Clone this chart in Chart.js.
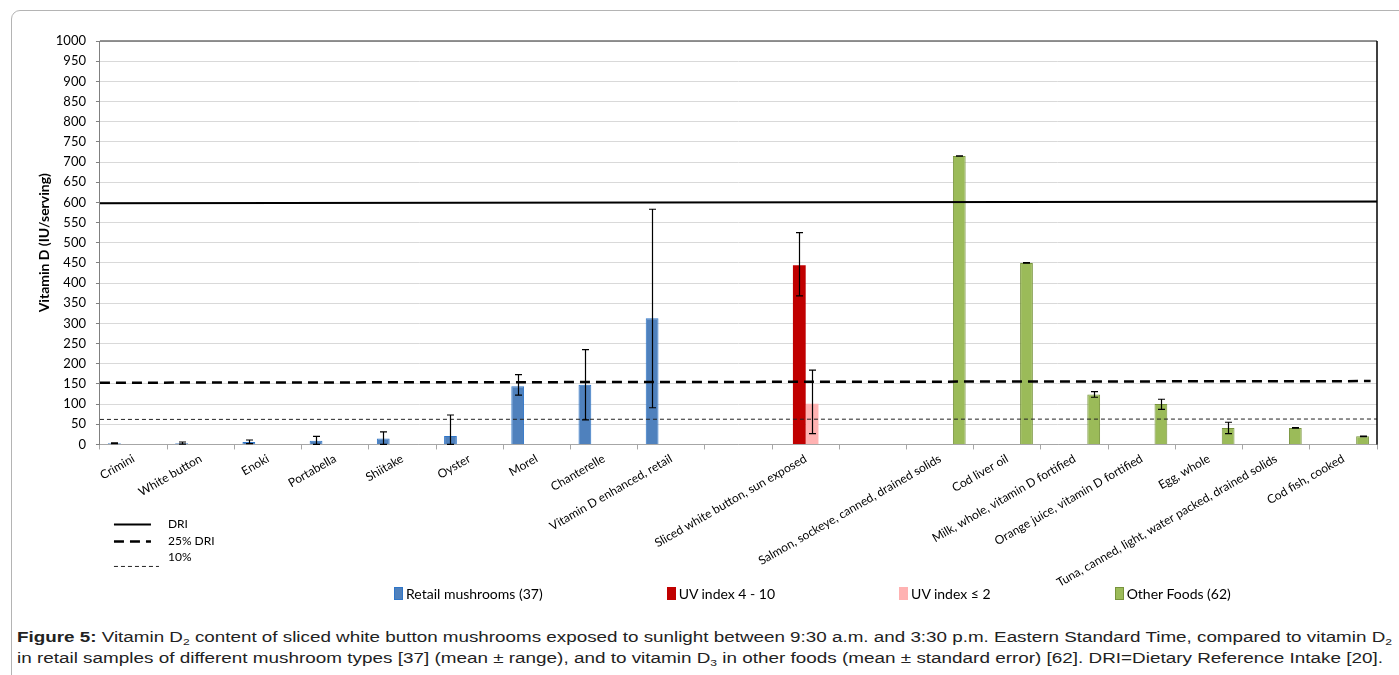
<!DOCTYPE html>
<html>
<head>
<meta charset="utf-8">
<script src="https://cdn.jsdelivr.net/npm/chart.js@4.4.1/dist/chart.umd.min.js"></script>
<style>
    html, body { margin: 0; padding: 0; background: #fff; }
    body { width: 1399px; height: 675px; overflow: hidden; position: relative; font-family: Lato, sans-serif; }
    .frame { position: absolute; left: 11px; top: 10px; width: 1460px; height: 720px; border: 1px solid #b4b4b4; border-radius: 9px; }
    .chartBox { position: absolute; left: 12px; top: 11px; width: 1387px; height: 585px; }
    .seriesLegend { position: absolute; left: 394px; top: 585px; display: flex; gap: 124px; font: 14px Lato, sans-serif; color: #000; }
    .seriesLegend .item { display: flex; align-items: center; white-space: nowrap; }
    .seriesLegend .key { width: 7px; height: 11px; margin-right: 3px; border: 1px solid; }
    .caption { position: absolute; left: 17px; top: 627px; font: 14px "Liberation Sans", Arial, sans-serif; line-height: 21px; color: #222; }
    .caption div { width: max-content; white-space: nowrap; transform-origin: 0 0; }
    .caption sub { font-size: 9px; vertical-align: -3px; line-height: 0; }
</style>
</head>
<body>
<div class="frame"></div>
<div class="chartBox"><canvas id="vitaminChart"></canvas></div>
<div class="seriesLegend" id="seriesLegend"></div>
<div class="caption">
    <div><b>Figure 5:</b> Vitamin D<sub>2</sub> content of sliced white button mushrooms exposed to sunlight between 9:30 a.m. and 3:30 p.m. Eastern Standard Time, compared to vitamin D<sub>2</sub></div>
    <div>in retail samples of different mushroom types [37] (mean ± range), and to vitamin D<sub>3</sub> in other foods (mean ± standard error) [62]. DRI=Dietary Reference Intake [20].</div>
</div>
<script>
// categories (two blank slots separate the groups)
const categories = ['Crimini', 'White button', 'Enoki', 'Portabella', 'Shiitake', 'Oyster', 'Morel', 'Chanterelle',
    'Vitamin D enhanced, retail', '', 'Sliced white button, sun exposed', '', 'Salmon, sockeye, canned, drained solids',
    'Cod liver oil', 'Milk, whole, vitamin D fortified', 'Orange juice, vitamin D fortified', 'Egg, whole',
    'Tuna, canned, light, water packed, drained solids', 'Cod fish, cooked'];

const seriesNames = ['Retail mushrooms (37)', 'UV index 4 - 10', 'UV index ≤ 2', 'Other Foods (62)'];

// mean values (IU/serving)
const retailValues = [3, 3, 6, 9, 15, 21, 144, 148, 313, null, null, null, null, null, null, null, null, null, null];
const uvHighValues = [null, null, null, null, null, null, null, null, null, null, 444, null, null, null, null, null, null, null, null];
const uvLowValues = [null, null, null, null, null, null, null, null, null, null, 101, null, null, null, null, null, null, null, null];
const otherValues = [null, null, null, null, null, null, null, null, null, null, null, null, 715, 450, 124, 100, 41, 41, 20];

// error bar ends (range for mushrooms, SE for other foods)
const retailLow = [2, 1, 2, 0, 0, 0, 122, 61, 91, null, null, null, null, null, null, null, null, null, null];
const retailHigh = [4, 6, 11, 20, 31, 73, 173, 235, 583, null, null, null, null, null, null, null, null, null, null];
const uvHighLow = [null, null, null, null, null, null, null, null, null, null, 368, null, null, null, null, null, null, null, null];
const uvHighHigh = [null, null, null, null, null, null, null, null, null, null, 525, null, null, null, null, null, null, null, null];
const uvLowLow = [null, null, null, null, null, null, null, null, null, null, 27, null, null, null, null, null, null, null, null];
const uvLowHigh = [null, null, null, null, null, null, null, null, null, null, 184, null, null, null, null, null, null, null, null];
const otherLow = [null, null, null, null, null, null, null, null, null, null, null, null, 714.5, 449.5, 117, 87, 27, 40.5, 19.5];
const otherHigh = [null, null, null, null, null, null, null, null, null, null, null, null, 715.5, 450.5, 131, 112, 55, 41.5, 20.5];

// reference lines: DRI, 25% DRI, 10% (value at left and right edge of the plot)
const refNames = ['DRI', '25% DRI', '10%'];
const refStart = [598, 153, 62];
const refEnd = [602, 157, 63];
const refEndX = [1, 0.995, 1];

const yTicks = [0, 1000, 50];

const refStyles = [
    { color: '#000', width: 2, dash: [] },
    { color: '#000', width: 2.5, dash: [10, 6] },
    { color: '#222', width: 1, dash: [4, 3] }
];

const barStyle = (label, data, low, high, fill, border) => ({
    label: label,
    data: data,
    errLow: low,
    errHigh: high,
    backgroundColor: fill,
    borderColor: border || fill,
    borderWidth: border ? 1 : 0,
    categoryPercentage: 0.76,
    barPercentage: 1.0
});

const datasets = [
    barStyle(seriesNames[0], retailValues, retailLow, retailHigh, '#4f81bd', '#2e75c8'),
    barStyle(seriesNames[1], uvHighValues, uvHighLow, uvHighHigh, '#c00000', null),
    barStyle(seriesNames[2], uvLowValues, uvLowLow, uvLowHigh, '#ffb2b2', null),
    barStyle(seriesNames[3], otherValues, otherLow, otherHigh, '#9bbb59', '#77933c')
];

// reference lines drawn across the plot from the y scale
const refLines = {
    id: 'refLines',
    afterDatasetsDraw(chart) {
        const { ctx, chartArea: a, scales: { y } } = chart;
        ctx.save();
        ctx.beginPath();
        ctx.rect(a.left, a.top, a.width, a.height);
        ctx.clip();
        refNames.forEach((name, i) => {
            ctx.strokeStyle = refStyles[i].color;
            ctx.lineWidth = refStyles[i].width;
            ctx.setLineDash(refStyles[i].dash);
            ctx.beginPath();
            ctx.moveTo(a.left, y.getPixelForValue(refStart[i]));
            ctx.lineTo(a.left + a.width * refEndX[i], y.getPixelForValue(refEnd[i]));
            ctx.stroke();
        });
        ctx.restore();
    }
};

// error bars drawn from the y scale
const errorBars = {
    id: 'errorBars',
    afterDatasetsDraw(chart) {
        const { ctx, scales: { y } } = chart;
        ctx.save();
        ctx.strokeStyle = '#000';
        ctx.lineWidth = 1.2;
        chart.data.datasets.forEach((ds, i) => {
            const meta = chart.getDatasetMeta(i);
            meta.data.forEach((bar, j) => {
                if (ds.data[j] == null) return;
                const x = Math.round(bar.x) + 0.5;
                const top = y.getPixelForValue(ds.errHigh[j]);
                const bottom = y.getPixelForValue(ds.errLow[j]);
                ctx.beginPath();
                ctx.moveTo(x, top);
                ctx.lineTo(x, bottom);
                ctx.moveTo(x - 3.5, top);
                ctx.lineTo(x + 3.5, top);
                ctx.moveTo(x - 3.5, bottom);
                ctx.lineTo(x + 3.5, bottom);
                ctx.stroke();
            });
        });
        ctx.restore();
    }
};

// top and right edges of the plot area
const plotFrame = {
    id: 'plotFrame',
    afterDraw(chart) {
        const { ctx, chartArea: a } = chart;
        ctx.save();
        ctx.lineWidth = 1.5;
        ctx.strokeStyle = '#6f6f6f';
        ctx.beginPath();
        ctx.moveTo(a.left, a.top);
        ctx.lineTo(a.right, a.top);
        ctx.stroke();
        ctx.strokeStyle = '#000';
        ctx.beginPath();
        ctx.moveTo(a.right, a.top);
        ctx.lineTo(a.right, a.bottom);
        ctx.stroke();
        ctx.restore();
    }
};

// small key for the reference lines, bottom left
const lineLegend = {
    id: 'lineLegend',
    afterDraw(chart) {
        const { ctx, chartArea: a } = chart;
        const rows = [
            { lineY: 80, textY: 80, len: 37 },
            { lineY: 97, textY: 97, len: 37 },
            { lineY: 122, textY: 113, len: 45 }
        ];
        ctx.save();
        ctx.font = '12px Lato, sans-serif';
        ctx.fillStyle = '#000';
        ctx.textBaseline = 'middle';
        refNames.forEach((name, i) => {
            ctx.strokeStyle = refStyles[i].color;
            ctx.lineWidth = refStyles[i].width;
            ctx.setLineDash(refStyles[i].dash);
            ctx.beginPath();
            ctx.moveTo(a.left + 14, a.bottom + rows[i].lineY);
            ctx.lineTo(a.left + 14 + rows[i].len, a.bottom + rows[i].lineY);
            ctx.stroke();
            ctx.fillText(name, a.left + 68, a.bottom + rows[i].textY);
        });
        ctx.restore();
    }
};

const ctx = document.getElementById('vitaminChart').getContext('2d');
const vitaminChart = new Chart(ctx, {
    type: 'bar',
    data: { labels: categories, datasets: datasets },
    options: {
        responsive: true,
        maintainAspectRatio: false,
        animation: false,
        layout: { padding: { left: 12, right: 22, top: 30, bottom: 4 } },
        plugins: {
            legend: { display: false },
            tooltip: { enabled: false }
        },
        scales: {
            x: {
                grid: { drawOnChartArea: false, tickLength: 5, tickColor: '#a6a6a6' },
                border: { color: '#a6a6a6' },
                ticks: {
                    autoSkip: false,
                    minRotation: 30,
                    maxRotation: 30,
                    padding: 2,
                    color: '#000',
                    font: { family: 'Lato', size: 12 }
                }
            },
            y: {
                min: yTicks[0],
                max: yTicks[1],
                ticks: {
                    stepSize: yTicks[2],
                    padding: 10,
                    color: '#000',
                    font: { family: 'Lato', size: 13 },
                    callback: (value) => String(value)
                },
                grid: { color: '#d9d9d9', tickColor: '#808080', tickLength: 4 },
                border: { color: '#808080' },
                title: {
                    display: true,
                    text: 'Vitamin D (IU/serving)',
                    color: '#000',
                    font: { family: 'Lato', size: 14, weight: 'bold' },
                    padding: { top: 12, bottom: -7 }
                }
            }
        }
    },
    plugins: [refLines, errorBars, plotFrame, lineLegend]
});

// series legend built from the bar datasets
const seriesLegendDOM = document.querySelector('#seriesLegend');
seriesLegendDOM.innerHTML = vitaminChart.data.datasets.map(ds => `
        <div class="item">
            <span class="key" style="background:${ds.backgroundColor};border-color:${ds.borderColor}"></span>
            <span>${ds.label}</span>
        </div>`).join('');

// caption lines are stretched to the width of the figure
const captionWidths = [1375, 1366];
document.querySelectorAll('.caption div').forEach((line, i) => {
    const w = line.getBoundingClientRect().width;
    line.style.transform = `scaleX(${captionWidths[i] / w})`;
});
</script>
</body>
</html>
